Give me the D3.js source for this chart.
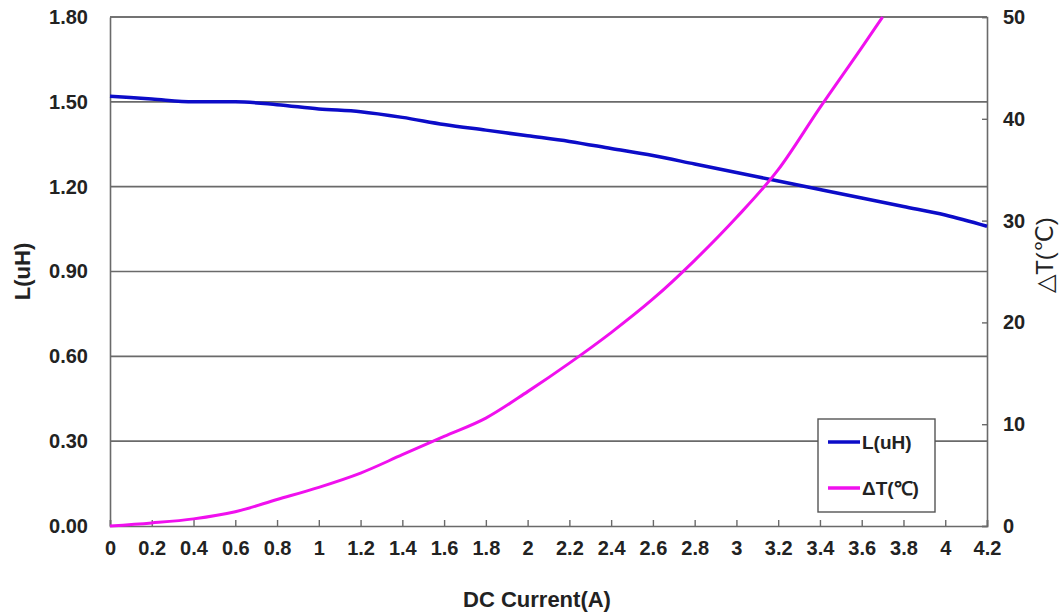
<!DOCTYPE html>
<html>
<head>
<meta charset="utf-8">
<script src="https://cdn.jsdelivr.net/npm/d3@7"></script>
<style>
  body { margin: 0; background: #fff; }
  svg text { font-family: "Liberation Sans", Arial, sans-serif; fill: #222; }
</style>
</head>
<body>
<svg id="chart"></svg>
<script>
// Inductance vs DC current
const currentL = [0, 0.2, 0.4, 0.6, 0.8, 1.0, 1.2, 1.4, 1.6, 1.8, 2.0, 2.2, 2.4, 2.6, 2.8, 3.0, 3.2, 3.4, 3.6, 3.8, 4.0, 4.2];
const inductance = [1.52, 1.51, 1.50, 1.50, 1.49, 1.475, 1.465, 1.445, 1.42, 1.40, 1.38, 1.36, 1.335, 1.31, 1.28, 1.25, 1.22, 1.19, 1.16, 1.13, 1.10, 1.06];

// Temperature rise vs DC current
const currentT = [0, 0.2, 0.4, 0.6, 0.8, 1.0, 1.2, 1.4, 1.6, 1.8, 2.0, 2.2, 2.4, 2.6, 2.8, 3.0, 3.2, 3.4, 3.6, 3.7];
const tempRise = [0, 0.3, 0.7, 1.4, 2.6, 3.8, 5.2, 7.0, 8.8, 10.6, 13.2, 16.0, 19.0, 22.3, 26.1, 30.3, 35.0, 41.1, 47.0, 50.0];

const xTicks = [0, 0.2, 0.4, 0.6, 0.8, 1, 1.2, 1.4, 1.6, 1.8, 2, 2.2, 2.4, 2.6, 2.8, 3, 3.2, 3.4, 3.6, 3.8, 4, 4.2];
const leftTicks = [0, 0.3, 0.6, 0.9, 1.2, 1.5, 1.8];
const rightTicks = [0, 10, 20, 30, 40, 50];

const width = 1060, height = 614;
const margin = { left: 110, right: 73, top: 17, bottom: 88 };
const plotR = width - margin.right;
const plotB = height - margin.bottom;

const svg = d3.select("#chart").attr("width", width).attr("height", height);

const x = d3.scaleLinear().domain([0, 4.2]).range([margin.left, plotR]);
const yL = d3.scaleLinear().domain([0, 1.8]).range([plotB, margin.top]);
const yT = d3.scaleLinear().domain([0, 50]).range([plotB, margin.top]);

const gridColor = "#6a6a6a";
const blue = "#0c0cc8";
const magenta = "#f010ee";

// Horizontal gridlines
svg.append("g").selectAll("line")
    .data(leftTicks.filter(d => d > 0))
    .join("line")
    .attr("x1", margin.left).attr("x2", plotR)
    .attr("y1", d => yL(d)).attr("y2", d => yL(d))
    .attr("stroke", gridColor).attr("stroke-width", 1.6);

// Left axis
const leftAxis = svg.append("g")
    .attr("transform", `translate(${margin.left},0)`)
    .call(d3.axisLeft(yL).tickValues(leftTicks).tickSize(0).tickPadding(22).tickFormat(d3.format(".2f")));
leftAxis.select(".domain").attr("stroke", gridColor).attr("stroke-width", 1.6);
leftAxis.selectAll("text").attr("font-size", "20px").attr("font-weight", "bold").attr("fill", "#222");

// Right axis
const rightAxis = svg.append("g")
    .attr("transform", `translate(${plotR},0)`)
    .call(d3.axisRight(yT).tickValues(rightTicks).tickSize(-5).tickPadding(16));
rightAxis.select(".domain").attr("stroke", gridColor).attr("stroke-width", 1.6);
rightAxis.selectAll(".tick line").attr("stroke", gridColor).attr("stroke-width", 1.4);
rightAxis.selectAll("text").attr("font-size", "20px").attr("font-weight", "bold").attr("fill", "#222");

// Bottom axis
const bottomAxis = svg.append("g")
    .attr("transform", `translate(0,${plotB})`)
    .call(d3.axisBottom(x).tickValues(xTicks).tickSize(-6).tickPadding(15).tickFormat(d => String(d)));
bottomAxis.select(".domain").attr("stroke", gridColor).attr("stroke-width", 1.6);
bottomAxis.selectAll(".tick line").attr("stroke", gridColor).attr("stroke-width", 1.4);
bottomAxis.selectAll("text").attr("font-size", "20px").attr("font-weight", "bold").attr("fill", "#222");

// Top border
svg.append("line")
    .attr("x1", margin.left).attr("x2", plotR)
    .attr("y1", margin.top).attr("y2", margin.top)
    .attr("stroke", gridColor).attr("stroke-width", 1.6);

// Curves
const lineL = d3.line()
    .x((d, i) => x(currentL[i]))
    .y(d => yL(d))
    .curve(d3.curveMonotoneX);
const lineT = d3.line()
    .x((d, i) => x(currentT[i]))
    .y(d => yT(d))
    .curve(d3.curveMonotoneX);

svg.append("path")
    .attr("d", lineL(inductance))
    .attr("fill", "none").attr("stroke", blue).attr("stroke-width", 3.5);
svg.append("path")
    .attr("d", lineT(tempRise))
    .attr("fill", "none").attr("stroke", magenta).attr("stroke-width", 3);

// Axis titles
svg.append("text")
    .attr("transform", `translate(30,${(margin.top + plotB) / 2}) rotate(-90)`)
    .attr("text-anchor", "middle")
    .attr("font-size", "22px").attr("font-weight", "bold")
    .text("L(uH)");

svg.append("text")
    .attr("transform", `translate(1053,255) rotate(-90)`)
    .attr("text-anchor", "middle")
    .attr("font-size", "24px")
    .text("△T(℃)");

svg.append("text")
    .attr("x", 537).attr("y", 607)
    .attr("text-anchor", "middle")
    .attr("font-size", "22px").attr("font-weight", "bold")
    .text("DC Current(A)");

// Legend
const legend = svg.append("g").attr("transform", "translate(818,419)");
legend.append("rect")
    .attr("width", 117).attr("height", 93)
    .attr("fill", "#fff").attr("stroke", "#555").attr("stroke-width", 1.4);
const legendItems = [
    { label: "L(uH)", color: blue },
    { label: "ΔT(℃)", color: magenta }
];
legendItems.forEach((item, i) => {
    const yy = 23 + i * 46;
    legend.append("line")
        .attr("x1", 10).attr("x2", 42)
        .attr("y1", yy).attr("y2", yy)
        .attr("stroke", item.color).attr("stroke-width", 3.5);
    legend.append("text")
        .attr("x", 44).attr("y", yy + 7)
        .attr("font-size", "19px").attr("font-weight", "bold")
        .text(item.label);
});
</script>
</body>
</html>
